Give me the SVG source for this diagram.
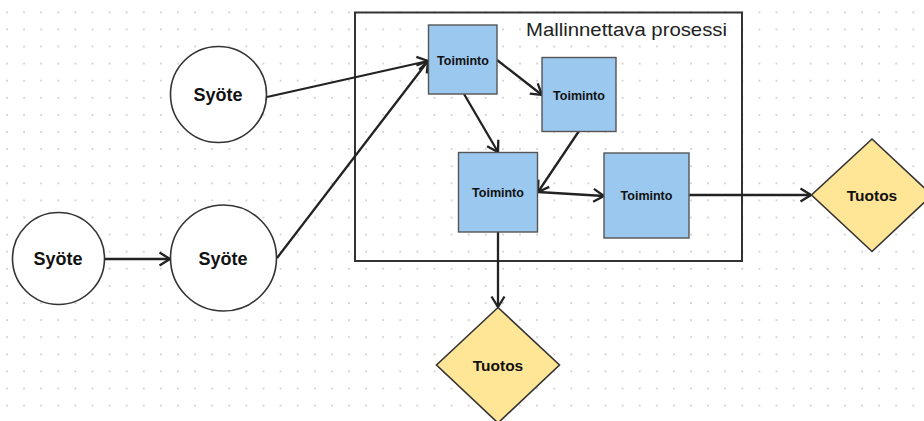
<svg xmlns="http://www.w3.org/2000/svg" width="924" height="421" viewBox="0 0 924 421">
  <defs>
    <pattern id="dots" patternUnits="userSpaceOnUse" x="-1.55" y="3.75" width="17.1" height="17.1">
      <circle cx="8.55" cy="8.55" r="0.9" fill="#c2c2c2"/>
    </pattern>
    <marker id="arrow" viewBox="0 0 13 16" refX="12" refY="8" markerWidth="13" markerHeight="16" markerUnits="userSpaceOnUse" orient="auto">
      <path d="M1.5,1.5 L12,8 L1.5,14.5" fill="none" stroke="#222" stroke-width="2.3" stroke-linejoin="miter"/>
    </marker>
    <style>
      .bg { fill: url(#dots); }
      .frame { fill: none; stroke: #333; stroke-width: 2; }
      .title { font-family: "Liberation Sans", Arial, sans-serif; font-size: 18.5px; fill: #222; }
      .circle { fill: #fff; stroke: #333; stroke-width: 1.6; }
      .act { fill: #9bc8ee; stroke: #555; stroke-width: 1.4; }
      .out { fill: #ffe596; stroke: #333; stroke-width: 1.6; }
      .lbl { font-family: "Liberation Sans", Arial, sans-serif; font-weight: bold; fill: #111; text-anchor: middle; }
      .in-lbl { font-size: 18px; }
      .act-lbl { font-size: 12.5px; }
      .out-lbl { font-size: 15.5px; }
      .edge { fill: none; stroke: #222; stroke-width: 2.3; }
      .arr { marker-end: url(#arrow); }
    </style>
  </defs>

  <rect width="924" height="421" fill="#fff"/>
  <rect class="bg" width="924" height="421"/>

  <!-- process boundary -->
  <g id="process">
    <rect class="frame" x="355" y="12.5" width="387" height="248.5"/>
    <text class="title" x="526" y="36" textLength="201" lengthAdjust="spacingAndGlyphs">Mallinnettava prosessi</text>
  </g>

  <!-- connectors -->
  <g id="connectors">
    <line class="edge arr" x1="104" y1="259" x2="170" y2="259"/>
    <line class="edge arr" x1="267" y1="97" x2="428" y2="61"/>
    <line class="edge arr" x1="277" y1="258" x2="428" y2="61"/>
    <line class="edge arr" x1="497" y1="60" x2="542" y2="95"/>
    <line class="edge arr" x1="464" y1="94" x2="498" y2="152"/>
    <line class="edge arr" x1="579" y1="131" x2="538" y2="192"/>
    <line class="edge arr" x1="538" y1="192" x2="604" y2="196"/>
    <line class="edge arr" x1="498" y1="232" x2="498" y2="307"/>
    <line class="edge arr" x1="689" y1="195" x2="811" y2="195"/>
  </g>

  <!-- inputs -->
  <g id="input-left">
    <circle class="circle" cx="58.5" cy="258.5" r="46"/>
    <text class="lbl in-lbl" x="58" y="265">Syöte</text>
  </g>
  <g id="input-mid">
    <circle class="circle" cx="223.5" cy="258" r="53"/>
    <text class="lbl in-lbl" x="223" y="265">Syöte</text>
  </g>
  <g id="input-top">
    <circle class="circle" cx="218.5" cy="94.5" r="48"/>
    <text class="lbl in-lbl" x="218" y="101">Syöte</text>
  </g>

  <!-- activities -->
  <g id="act-1">
    <rect class="act" x="428.5" y="25" width="68.5" height="69"/>
    <text class="lbl act-lbl" x="463" y="65">Toiminto</text>
  </g>
  <g id="act-2">
    <rect class="act" x="542" y="57.5" width="74" height="74"/>
    <text class="lbl act-lbl" x="579" y="100">Toiminto</text>
  </g>
  <g id="act-3">
    <rect class="act" x="458.5" y="152.5" width="79" height="79.5"/>
    <text class="lbl act-lbl" x="498" y="197">Toiminto</text>
  </g>
  <g id="act-4">
    <rect class="act" x="604" y="153" width="85" height="85"/>
    <text class="lbl act-lbl" x="646.5" y="200">Toiminto</text>
  </g>

  <!-- outputs -->
  <g id="output-right">
    <polygon class="out" points="872,139 932,195 872,251.5 811.5,195"/>
    <text class="lbl out-lbl" x="872" y="201">Tuotos</text>
  </g>
  <g id="output-bottom">
    <polygon class="out" points="498,307.5 559.5,365 498,423 436.5,365"/>
    <text class="lbl out-lbl" x="498" y="371">Tuotos</text>
  </g>
</svg>
